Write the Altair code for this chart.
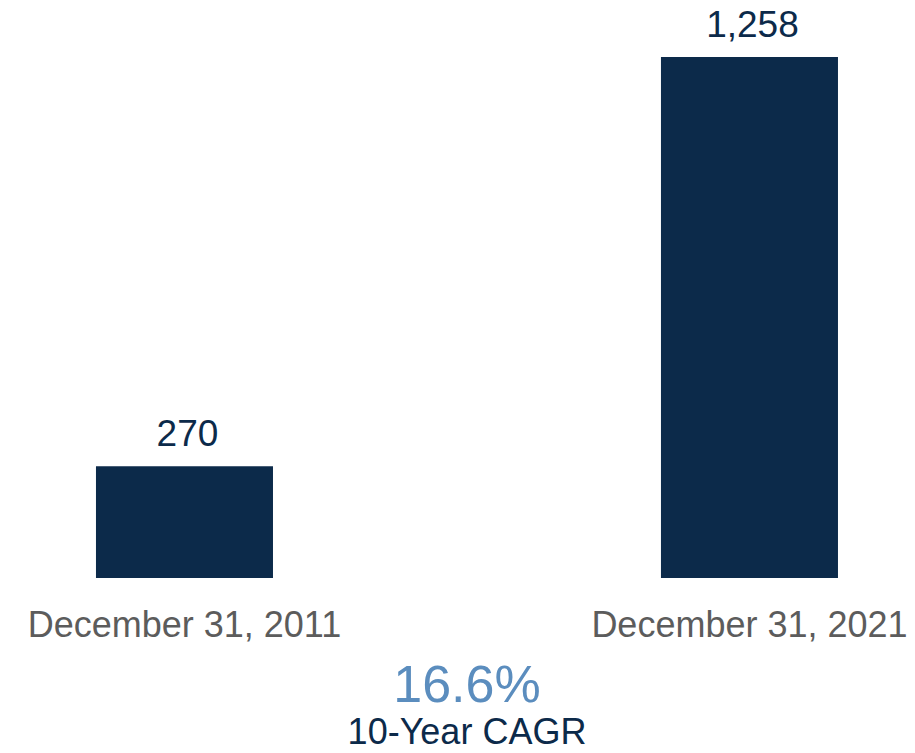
import altair as alt
import pandas as pd

categories = ["December 31, 2011", "December 31, 2021"]
values = [270, 1258]
value_labels = ["270", "1,258"]
cagr_value = "16.6%"
cagr_label = "10-Year CAGR"

NAVY = "#0C2A4A"
GRAY = "#5C5C5C"
LIGHT_BLUE = "#5B8DBE"
FONT = "Liberation Sans"

df = pd.DataFrame({"date": categories, "value": values, "label": value_labels})

x = alt.X(
    "date:N",
    sort=categories,
    scale=alt.Scale(paddingInner=0.6867, paddingOuter=0.1354, align=0.575),
    axis=alt.Axis(
        title=None,
        labelAngle=0,
        labelFontSize=36,
        labelColor=GRAY,
        labelFont=FONT,
        labelLimit=600,
        domain=False,
        ticks=False,
        grid=False,
        labelPadding=58,
        labelBaseline="alphabetic",
    ),
)
y = alt.Y("value:Q", scale=alt.Scale(domain=[0, 1357], nice=False, zero=True), axis=None)

bars = alt.Chart(df).mark_bar(color=NAVY).encode(x=x, y=y)
labels = alt.Chart(df).mark_text(
    baseline="alphabetic", dy=-20, dx=3, fontSize=37, font=FONT, color=NAVY
).encode(x=x, y=y, text="label:N")

chart = (
    alt.layer(bars, labels)
    .properties(
        width=895,
        height=562,
        autosize="none",
        background="white",
        padding={"left": 0, "top": 8, "right": 4, "bottom": 167},
        title=alt.TitleParams(
            text=cagr_value,
            subtitle=cagr_label,
            orient="bottom",
            anchor="middle",
            frame="group",
            fontSize=52,
            subtitleFontSize=36,
            color=LIGHT_BLUE,
            subtitleColor=NAVY,
            font=FONT,
            subtitleFont=FONT,
            fontWeight="normal",
            offset=18,
            dx=11.5,
            subtitlePadding=3,
        ),
    )
    .configure_view(strokeWidth=0, stroke="transparent")
)

chart.save("out.html", embed_options={"renderer": "svg", "actions": False})
